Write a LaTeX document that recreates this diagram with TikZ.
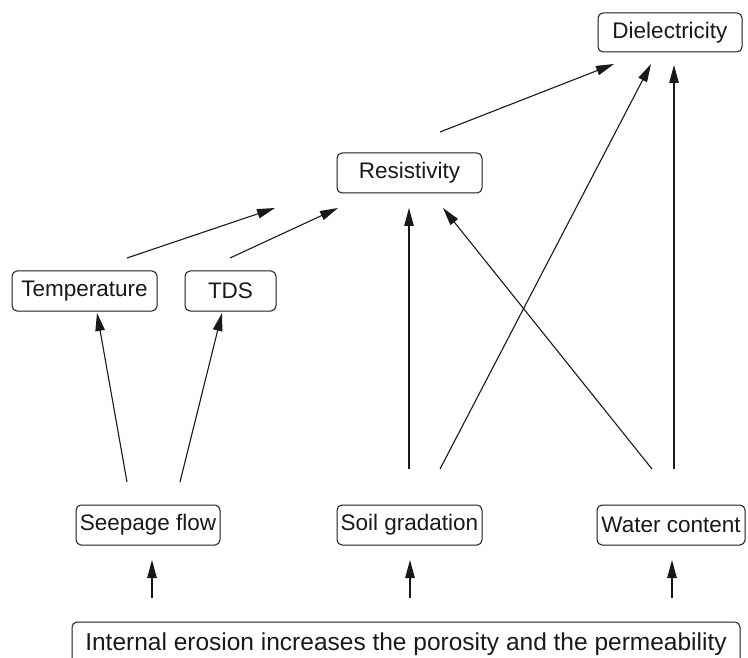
\documentclass[tikz,border=0pt]{standalone}
\usepackage{fontspec}
\setmainfont{Liberation Sans}
\usetikzlibrary{arrows.meta}
\tikzset{
  box/.style={draw=black!90, line width=1pt, rounded corners=5pt, inner sep=0pt, font=\fontsize{22.5}{25}\selectfont, text=black!90},
  arr/.style={draw=black!90, line width=1.1pt, -{Triangle[length=18pt,width=9.5pt]}}
}
\begin{document}
\begin{tikzpicture}[x=1pt,y=-1pt]
\useasboundingbox (0,0) rectangle (748,658);
\node[box, minimum width=144pt, minimum height=39pt] (diel) at (670,32.5) {Dielectricity};
\node[box, minimum width=145pt, minimum height=40pt] (res) at (409.5,173) {Resistivity};
\node[box, minimum width=145pt, minimum height=40pt] (temp) at (84.5,291) {Temperature};
\node[box, minimum width=91pt, minimum height=40pt] (tds) at (230.5,291) {TDS};
\node[box, minimum width=144pt, minimum height=40pt] (seep) at (148,525) {Seepage flow};
\node[box, minimum width=145pt, minimum height=40pt] (soil) at (409.5,525) {Soil gradation};
\node[box, minimum width=148pt, minimum height=40pt] (water) at (671,525) {Water content};
\node[box, minimum width=668pt, minimum height=44pt, font=\fontsize{24.5}{27}\selectfont] (ie) at (406,644) {Internal erosion increases the porosity and the permeability};
% arrow end points
\coordinate (a1s) at (127,258); \coordinate (a1e) at (275,208);
\coordinate (a2s) at (230,258); \coordinate (a2e) at (338,208);
\coordinate (a3s) at (440,132); \coordinate (a3e) at (614,64);
\coordinate (a4s) at (440,469); \coordinate (a4e) at (651,64);
\coordinate (a5s) at (674,469); \coordinate (a5e) at (674,65);
\coordinate (a6s) at (409,469); \coordinate (a6e) at (409,208);
\coordinate (a7s) at (652,469); \coordinate (a7e) at (443,208);
\coordinate (a8s) at (127,482); \coordinate (a8e) at (97,313);
\coordinate (a9s) at (180,482); \coordinate (a9e) at (222,313);
\coordinate (b1s) at (152,598); \coordinate (b1e) at (152,560);
\coordinate (b2s) at (410,598); \coordinate (b2e) at (410,560);
\coordinate (b3s) at (672,598); \coordinate (b3e) at (672,560);
\draw[arr] (a1s) -- (a1e);
\draw[arr] (a2s) -- (a2e);
\draw[arr] (a3s) -- (a3e);
\draw[arr] (a4s) -- (a4e);
\draw[arr] (a5s) -- (a5e);
\draw[arr] (a6s) -- (a6e);
\draw[arr] (a7s) -- (a7e);
\draw[arr] (a8s) -- (a8e);
\draw[arr] (a9s) -- (a9e);
\draw[arr] (b1s) -- (b1e);
\draw[arr] (b2s) -- (b2e);
\draw[arr] (b3s) -- (b3e);
\end{tikzpicture}
\end{document}
